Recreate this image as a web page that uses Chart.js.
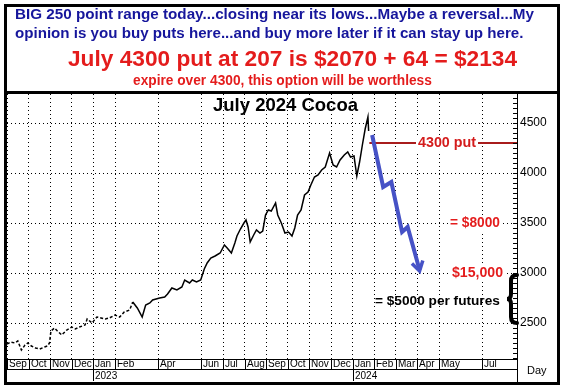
<!DOCTYPE html>
<html>
<head>
<meta charset="utf-8">
<script src="https://cdn.jsdelivr.net/npm/chart.js@4.4.1/dist/chart.umd.min.js"></script>
<style>
  html, body { margin: 0; padding: 0; background: #fff; }
</style>
</head>
<body>
<canvas id="myChart" width="566" height="390"></canvas>
<script>
// price of July 2024 cocoa
const priceDates = [
  '2022-09-01','2022-09-06','2022-09-12','2022-09-16','2022-09-21','2022-09-26','2022-09-30',
  '2022-10-05','2022-10-11','2022-10-17','2022-10-24','2022-10-28','2022-10-31',
  '2022-11-02','2022-11-07','2022-11-11','2022-11-17','2022-11-24',
  '2022-12-01','2022-12-06','2022-12-12','2022-12-20','2022-12-23','2022-12-30',
  '2023-01-06','2023-01-12','2023-01-18','2023-01-24',
  '2023-02-01','2023-02-07','2023-02-13','2023-02-20','2023-02-24',
  '2023-03-02','2023-03-09','2023-03-14','2023-03-20','2023-03-24',
  '2023-04-03','2023-04-10','2023-04-14','2023-04-20','2023-04-27',
  '2023-05-04','2023-05-08','2023-05-15','2023-05-19','2023-05-25','2023-05-31',
  '2023-06-05','2023-06-09','2023-06-14','2023-06-20','2023-06-27',
  '2023-07-03','2023-07-07','2023-07-13','2023-07-18','2023-07-21','2023-07-26','2023-07-31',
  '2023-08-03','2023-08-06','2023-08-09','2023-08-14','2023-08-18','2023-08-23','2023-08-27','2023-08-31',
  '2023-09-04','2023-09-08','2023-09-14','2023-09-17','2023-09-22','2023-09-27',
  '2023-10-02','2023-10-07','2023-10-11','2023-10-15','2023-10-20','2023-10-25','2023-10-30',
  '2023-11-03','2023-11-08','2023-11-13','2023-11-18','2023-11-23','2023-11-29',
  '2023-12-04','2023-12-09','2023-12-14','2023-12-20','2023-12-25','2023-12-29',
  '2024-01-03','2024-01-07','2024-01-11','2024-01-15','2024-01-19','2024-01-23','2024-01-24'
];
const priceValues = [
  2290,2310,2300,2320,2230,2280,2300,
  2270,2250,2240,2260,2270,2300,
  2420,2450,2420,2380,2430,
  2460,2440,2460,2480,2540,2500,
  2560,2550,2540,2550,
  2580,2560,2610,2630,2710,
  2650,2560,2680,2700,2730,
  2750,2760,2790,2850,2830,
  2860,2930,2900,2930,2910,2930,
  3040,3100,3150,3170,3200,
  3280,3250,3200,3300,3370,3440,3500,
  3530,3460,3310,3380,3430,3400,3420,3580,
  3630,3620,3700,3580,3500,3400,
  3410,3370,3450,3580,3630,3780,3810,
  3880,3960,3980,4030,4060,4200,
  4080,4060,4130,4180,4210,4160,
  4170,3970,4110,4280,4440,4560,4420
];
// thin trading before this date is drawn dashed
const thinUntil = '2023-03-01';

// hand drawn forecast arrow
const arrowDates = ['2024-01-29','2024-02-13','2024-02-24','2024-03-10','2024-03-18','2024-04-04'];
const arrowValues = [4380, 3860, 3910, 3410, 3460, 3030];

// put strike line
const putStrike = 4300;
const putStart = '2024-01-25';

// price axis
const yMin = 2140, yMax = 4790, yMajor = 500, yMinor = 50;

// x axis month boxes
const monthLabels = ['Sep','Oct','Nov','Dec','Jan','Feb','Apr','Jun','Jul','Aug','Sep','Oct','Nov','Dec','Jan','Feb','Mar','Apr','May','Jul'];
const monthStarts = ['2022-09-01','2022-10-01','2022-11-01','2022-12-01','2023-01-01','2023-02-01','2023-04-01',
  '2023-06-01','2023-07-01','2023-08-01','2023-09-01','2023-10-01','2023-11-01','2023-12-01',
  '2024-01-01','2024-02-01','2024-03-01','2024-04-01','2024-05-01','2024-07-01'];
const yearLabels = ['2023','2024'];
const yearStarts = ['2023-01-01','2024-01-01'];

const headerLines = [
  'BIG 250 point range today...closing near its lows...Maybe a reversal...My',
  'opinion is you buy puts here...and buy more later if it can stay up here.',
  'July 4300 put at 207 is $2070 + 64 = $2134',
  'expire over 4300, this option will be worthless'
];

// months since 1 Sep 2022 (each month gets the same width, like the trading-day chart)
const toOffset = (s) => {
  const [y, m, d] = s.split('-').map(Number);
  const dim = new Date(y, m, 0).getDate();
  return (y - 2022) * 12 + (m - 9) + (d - 1) / dim;
};

const FONT = '"Liberation Sans", Arial, sans-serif';
const BLUE_TXT = '#16169c';
const RED_TXT = '#e41c1c';

// draw text stretched to a given width, optionally on a white patch
const fitText = (ctx, text, x, y, width, weight, color, bg) => {
  ctx.font = `${weight} 20px ${FONT}`;
  const size = 20 * width / ctx.measureText(text).width;
  if (bg) {
    ctx.fillStyle = '#fff';
    ctx.fillRect(x - 2, y - size * 0.55, width + 4, size * 1.1);
  }
  ctx.font = `${weight} ${size.toFixed(2)}px ${FONT}`;
  ctx.fillStyle = color;
  ctx.textAlign = 'left';
  ctx.textBaseline = 'middle';
  ctx.fillText(text, x, y);
};

const overlay = {
  id: 'overlay',
  afterDraw(chart) {
    const ctx = chart.ctx;
    const xs = chart.scales.x, ys = chart.scales.y;
    const area = chart.chartArea;
    ctx.save();

    // header
    fitText(ctx, headerLines[0], 15, 15, 519, 'bold', BLUE_TXT);
    fitText(ctx, headerLines[1], 15, 34, 509, 'bold', BLUE_TXT);
    fitText(ctx, headerLines[2], 68, 60, 449, 'bold', RED_TXT);
    fitText(ctx, headerLines[3], 133, 81, 299, 'bold', RED_TXT);

    // frames
    ctx.fillStyle = '#000';
    ctx.fillRect(4, 91, 556, 3);
    ctx.strokeStyle = '#000';
    ctx.lineWidth = 3;
    ctx.strokeRect(5.5, 5.5, 553, 378);
    ctx.fillRect(area.left, area.bottom, area.right - area.left, 1);
    ctx.fillRect(area.right, 92, 1, 291);
    ctx.fillRect(area.left, area.bottom + 10, area.right - area.left, 1);

    // small ticks on the price axis
    ys.ticks.forEach(t => {
      const y = Math.round(ys.getPixelForValue(t.value));
      ctx.fillRect(area.right - 4, y, 4, 1);
    });

    // month boxes
    ctx.font = `10px "Liberation Sans Narrow", ${FONT}`;
    ctx.textBaseline = 'middle';
    ctx.textAlign = 'left';
    monthStarts.forEach((d, i) => {
      const x = Math.round(xs.getPixelForValue(toOffset(d)));
      ctx.fillRect(x, area.bottom, 1, 10);
      ctx.fillText(monthLabels[i], x + 2, area.bottom + 5.5);
    });
    yearStarts.forEach((d, i) => {
      const x = Math.round(xs.getPixelForValue(toOffset(d)));
      ctx.fillRect(x, area.bottom + 11, 1, 11);
      ctx.fillText(yearLabels[i], x + 2, area.bottom + 17);
    });
    ctx.font = `11px ${FONT}`;
    ctx.fillText('Day', 527, 371);

    // title
    fitText(ctx, 'July 2024 Cocoa', 213, 106, 145, 'bold', '#000');

    // annotations
    const yPut = ys.getPixelForValue(putStrike);
    fitText(ctx, '4300 put', 418, yPut + 0.5, 58, 'bold', '#d41c1c', true);
    fitText(ctx, '= $8000', 450, ys.getPixelForValue(3500) + 0.5, 50, 'bold', RED_TXT, true);
    fitText(ctx, '$15,000', 452, ys.getPixelForValue(3000) + 0.5, 51, 'bold', RED_TXT, true);
    fitText(ctx, '= $5000 per futures', 375, ys.getPixelForValue(2720), 125, 'bold', '#000');

    // brace from 3000 to 2500
    const bt = ys.getPixelForValue(3000) + 2, bb = ys.getPixelForValue(2500);
    const bm = (bt + bb) / 2, bx = area.right;
    ctx.strokeStyle = '#000';
    ctx.lineWidth = 4;
    ctx.lineCap = 'round';
    ctx.beginPath();
    ctx.moveTo(bx, bt);
    ctx.quadraticCurveTo(bx - 6, bt, bx - 6, bt + 6);
    ctx.lineTo(bx - 6, bm - 5);
    ctx.quadraticCurveTo(bx - 6, bm, bx - 10, bm);
    ctx.quadraticCurveTo(bx - 6, bm, bx - 6, bm + 5);
    ctx.lineTo(bx - 6, bb - 6);
    ctx.quadraticCurveTo(bx - 6, bb, bx, bb);
    ctx.stroke();

    // arrow head at the end of the forecast
    const meta = chart.getDatasetMeta(1).data;
    const p1 = meta[meta.length - 1], p0 = meta[meta.length - 2];
    const ang = Math.atan2(p1.y - p0.y, p1.x - p0.x);
    ctx.strokeStyle = '#4652c6';
    ctx.lineWidth = 3.5;
    ctx.lineCap = 'butt';
    ctx.beginPath();
    ctx.moveTo(p1.x - 10 * Math.cos(ang - 0.6), p1.y - 10 * Math.sin(ang - 0.6));
    ctx.lineTo(p1.x, p1.y + 1);
    ctx.lineTo(p1.x - 10 * Math.cos(ang + 0.6), p1.y - 10 * Math.sin(ang + 0.6));
    ctx.stroke();

    ctx.restore();
  }
};

const thinX = toOffset(thinUntil);
const xMax = 23.61;

const ctx = document.getElementById('myChart');
new Chart(ctx, {
  type: 'line',
  data: {
    datasets: [{
      data: priceDates.map((d, i) => ({ x: toOffset(d), y: priceValues[i] })),
      borderColor: '#000',
      borderWidth: 1.5,
      pointRadius: 0,
      segment: { borderDash: c => c.p1.parsed.x <= thinX ? [3, 2] : undefined }
    }, {
      data: arrowDates.map((d, i) => ({ x: toOffset(d), y: arrowValues[i] })),
      borderColor: '#4652c6',
      borderWidth: 4,
      borderJoinStyle: 'miter',
      pointRadius: 0
    }, {
      data: [{ x: toOffset(putStart), y: putStrike }, { x: xMax, y: putStrike }],
      borderColor: '#a81c1c',
      borderWidth: 2,
      pointRadius: 0
    }]
  },
  options: {
    responsive: false,
    animation: false,
    devicePixelRatio: 1,
    events: [],
    layout: { padding: { left: 7, top: 94, right: 8, bottom: 31 } },
    plugins: { legend: { display: false }, tooltip: { enabled: false } },
    scales: {
      x: {
        type: 'linear',
        min: 0,
        max: xMax,
        afterBuildTicks: s => { s.ticks = monthStarts.map(d => ({ value: toOffset(d) })); },
        afterFit: s => { s.height = 0; },
        ticks: { display: false },
        grid: { color: '#000', drawTicks: false, lineWidth: 1 },
        border: { display: false, dash: [1, 3] }
      },
      y: {
        position: 'right',
        min: yMin,
        max: yMax,
        afterBuildTicks: s => {
          const t = [];
          for (let v = Math.ceil(yMin / yMinor) * yMinor; v <= yMax; v += yMinor) t.push({ value: v });
          s.ticks = t;
        },
        afterFit: s => { s.width = 41; },
        ticks: {
          autoSkip: false,
          padding: 3,
          color: '#000',
          font: { family: FONT, size: 12 },
          callback: v => (v % yMajor === 0 ? String(v) : '')
        },
        grid: {
          drawTicks: false,
          lineWidth: 1,
          color: c => (c.tick && c.tick.value % yMajor === 0 ? '#000' : 'rgba(0,0,0,0)')
        },
        border: { display: false, dash: [1, 3] }
      }
    }
  },
  plugins: [overlay]
});
</script>
</body>
</html>
